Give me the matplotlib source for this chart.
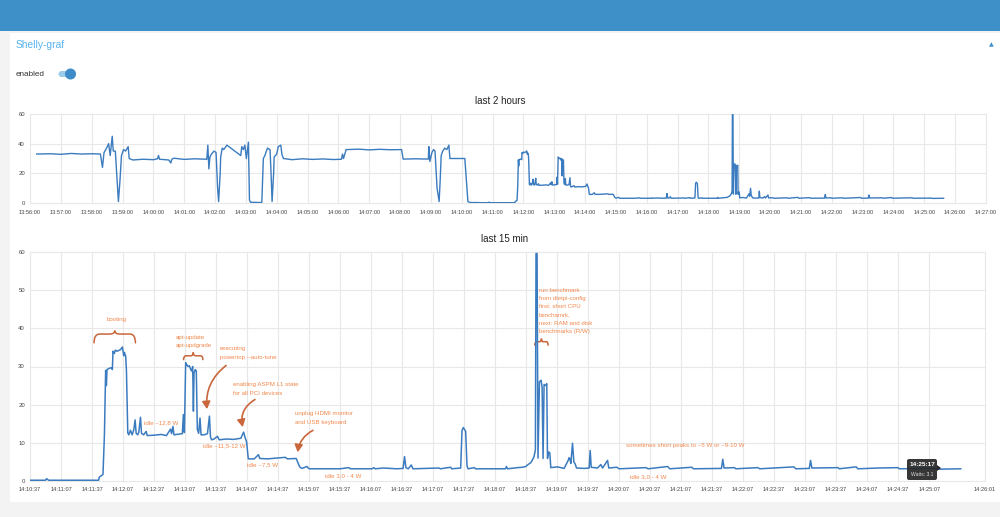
import matplotlib
matplotlib.use("Agg")
import matplotlib.pyplot as plt
from matplotlib.patches import FancyBboxPatch, Circle, Rectangle, FancyArrowPatch, Polygon, PathPatch
from matplotlib.path import Path
from matplotlib.ticker import FixedLocator, FixedFormatter

# ------------------------------------------------------------------ data
page_title = "Shelly-graf"
toggle_label = "enabled"
top_title = "last 2 hours"
bottom_title = "last 15 min"

# older part of the long-range chart (clock time, watts)
early_times = ["13:56:13", "13:56:40", "13:57:00", "13:57:20", "13:57:40", "13:58:00", "13:58:17",
               "13:58:21", "13:58:24", "13:58:29", "13:58:33", "13:58:36", "13:58:40", "13:58:42",
               "13:58:46", "13:58:52", "13:58:55", "13:58:58", "13:59:02", "13:59:06", "13:59:11",
               "13:59:13", "13:59:20", "13:59:40", "14:00:00", "14:00:08", "14:00:10", "14:00:12",
               "14:00:30", "14:00:34", "14:00:36", "14:00:40", "14:01:00", "14:01:20", "14:01:44",
               "14:01:46", "14:01:48", "14:01:50", "14:01:53", "14:01:58", "14:02:02", "14:02:05",
               "14:02:07", "14:02:10", "14:02:11", "14:02:14", "14:02:17", "14:02:23", "14:02:50",
               "14:02:52", "14:02:55", "14:02:58", "14:03:01", "14:03:05", "14:03:07", "14:03:09",
               "14:03:31", "14:03:34", "14:03:37", "14:03:42", "14:03:47", "14:03:49", "14:03:51",
               "14:03:54", "14:03:55", "14:04:00", "14:04:03", "14:04:08", "14:04:10", "14:04:13",
               "14:04:30", "14:04:50", "14:05:10", "14:05:30", "14:05:50", "14:06:06", "14:06:08",
               "14:06:10", "14:06:15", "14:06:40", "14:07:00", "14:07:20", "14:07:40", "14:08:03",
               "14:08:06", "14:08:30", "14:08:55", "14:08:56", "14:08:58", "14:09:02", "14:09:05",
               "14:09:08", "14:09:12", "14:09:16", "14:09:18", "14:09:20", "14:09:23", "14:09:27",
               "14:09:31", "14:09:35", "14:09:37", "14:10:06", "14:10:10", "14:10:12", "14:10:16",
               "14:10:30"]
early_watts = [33.0, 33.2, 32.8, 33.4, 33.0, 33.2, 33.0,
               24, 34, 37, 40, 32, 45, 35,
               35, 1, 15, 32, 36, 35, 38,
               30, 29, 29.5, 29.2, 29.8, 32, 29.5,
               29, 27, 29.5, 30.2, 29.4, 29.8, 29.5,
               39, 23, 31, 33, 35, 34, 10,
               1, 20, 31, 37, 36, 39, 32,
               38, 36, 39, 30, 41, 2, 0.5,
               0.3, 30, 32, 37, 36, 20, 1,
               20, 31, 33, 38, 39, 33, 30,
               29.2, 29.8, 29.4, 29.7, 29.3, 29.5, 33,
               30, 36, 36.3, 35.8, 36.2, 35.9, 36,
               29.6, 29.8, 29.6, 38, 28, 34, 36,
               35, 10, 1, 15, 32, 35, 37,
               36, 39, 30, 30, 10, 1, 0.3,
               0.3]

# recent part (seconds after 14:10:37, watts) - shown in both charts
recent_start = "14:10:37"
recent_offsets = [0, 15, 16, 18, 40, 66.4, 67, 69, 70.6, 72, 73.2, 73.9, 74.5, 76.5, 78.7, 79.7,
                  80.3, 81.6, 82.6, 84.2, 87.5, 89.4, 90.7, 91.4, 92.6, 93.3, 94.6, 95.6, 97.2,
                  98.8, 100.4, 101.7, 102.7, 104.3, 105.3, 106.9, 107.9, 110, 112.4, 113.4, 120,
                  127, 132, 136, 137, 138.3, 139.3, 147.4, 148.4, 149.4, 150.6, 151.6, 152.9,
                  154.2, 155.5, 156.4, 157.4, 158.1, 158.7, 159.9, 160.9, 161.9, 163.2, 164.5,
                  165.5, 168.5, 171.7, 173.6, 174.6, 175.6, 178, 181.4, 183, 190, 197, 204,
                  206.7, 208, 209.6, 211.2, 217, 221, 222.3, 230, 247, 249, 257.5, 261, 263,
                  268, 270, 285, 300, 308.5, 310, 331, 332.7, 334, 342, 355, 361, 362.4, 363.7,
                  366, 368.9, 370.5, 395.7, 397, 407, 408, 416.7, 418, 419.3, 421.5, 422.8,
                  423.8, 430, 431, 460, 461, 462, 471.6, 476.4, 479.7, 481.3, 484.5, 486.1,
                  487.7, 489, 489.6, 490.6, 491.5, 492.9, 494.5, 495.5, 496.4, 497.4, 499, 500,
                  500.7, 501.6, 502.9, 503.9, 510.4, 516.8, 520.7, 521.6, 522.3, 523.3, 524.9,
                  526.2, 527.4, 528.8, 536.2, 541, 542, 543, 549.1, 552.3, 554, 558.8, 560,
                  563.6, 567.8, 570, 596, 598, 617, 619, 640.2, 642, 669, 670.3, 671.5, 681.5,
                  683, 704.2, 706, 739, 741, 754, 755.2, 756.5, 781.7, 783, 799.4, 801, 820.4,
                  839.8, 841, 875.3, 880, 900.5]
recent_watts = [0.2, 0.2, 0.6, 0.2, 0.2, 0.2, 1.0, 1.4, 1.7, 12, 29, 25, 29.2, 29.5, 29.7, 29.2,
                34, 33.4, 34.3, 34, 34.4, 35.1, 32.8, 33.7, 32.6, 29, 12.6, 12.1, 13.3,
                12.1, 13.4, 16, 12.5, 12.1, 12.8, 16.7, 12.5, 12.1, 13, 11.9, 12.0,
                12.2, 11.9, 13.6, 12.4, 14.3, 12.1, 12.4, 17.4, 12.7, 31, 30.5, 30,
                30.2, 29.2, 28.8, 30, 18.3, 28.3, 29.2, 28.8, 13.5, 12.5, 16.5,
                12.1, 12.1, 12.4, 17, 11.6, 10.8, 11.0, 11.7, 10.8, 11.0, 10.9, 11.2,
                12.8, 11.5, 10.2, 5.8, 5.8, 6.9, 5.9, 5.8, 6.2, 5.8, 5.9, 3.7, 3.3,
                3.8, 3.2, 3.2, 3.2, 3.5, 3.2, 3.2, 3.5, 3.2, 3.4, 3.2, 3.3, 6.4, 3.5,
                3.2, 4.2, 3.2, 3.4, 3.2, 3.6, 3.2, 3.4, 13.3, 14.0, 13.0, 4.0,
                3.2, 3.5, 3.2, 3.2, 3.8, 3.2, 3.5, 3.6, 3.8, 4.2, 4.8, 5.5,
                6.4, 8.2, 59.6, 59.6, 6.0, 26.0, 26.4, 24.5, 5.9, 25.3, 25.0, 25.5,
                5.9, 7.6, 7.4, 3.5, 3.7, 3.3, 5.4, 6.1, 5.8, 4.6, 9.9,
                5.0, 4.5, 3.4, 3.3, 3.4, 8.0, 3.6, 3.4, 4.3, 3.4, 5.4, 3.4,
                3.5, 3.6, 3.2, 3.5, 3.2, 3.8, 3.2, 3.6, 3.2, 3.3, 5.7, 3.4, 3.5,
                3.2, 3.5, 3.2, 3.7, 3.2, 3.3, 5.4, 3.4, 3.5, 3.2, 3.7, 3.2, 3.4,
                3.5, 3.2, 3.3, 3.1, 3.2]

top_xtick_labels = ["13:56:00", "13:57:00", "13:58:00", "13:59:00", "14:00:00", "14:01:00",
                    "14:02:00", "14:03:00", "14:04:00", "14:05:00", "14:06:00", "14:07:00",
                    "14:08:00", "14:09:00", "14:10:00", "14:11:00", "14:12:00", "14:13:00",
                    "14:14:00", "14:15:00", "14:16:00", "14:17:00", "14:18:00", "14:19:00",
                    "14:20:00", "14:21:00", "14:22:00", "14:23:00", "14:24:00", "14:25:00",
                    "14:26:00", "14:27:00"]
top_yticks = [0, 20, 40, 60]
bottom_xtick_labels = ["14:10:37", "14:11:07", "14:11:37", "14:12:07", "14:12:37", "14:13:07",
                       "14:13:37", "14:14:07", "14:14:37", "14:15:07", "14:15:37", "14:16:07",
                       "14:16:37", "14:17:07", "14:17:37", "14:18:07", "14:18:37", "14:19:07",
                       "14:19:37", "14:20:07", "14:20:37", "14:21:07", "14:21:37", "14:22:07",
                       "14:22:37", "14:23:07", "14:23:37", "14:24:07", "14:24:37", "14:25:07",
                       "14:26:01"]
bottom_yticks = [0, 10, 20, 30, 40, 50, 60]

# notes on the 15-minute chart: lines, seconds after 14:10:37, watts of first line, alignment
note_lines = [["booting"], ["apt-update", "apt-updgrade"], ["executing", "powertop --auto-tune"],
              ["enabling ASPM L1 state", "for all PCI devices"],
              ["unplug HDMI monitor", "and USB keyboard"],
              ["idle ~12,8 W"], ["idle ~11,5-12 W"], ["idle ~7,5 W"], ["idle 3,0 - 4 W"],
              ["run benchmark", "from dietpi-config", "first: short CPU", "benchamrk,",
               "next: RAM and disk", "benchmarks (R/W)"],
              ["sometimes short peaks to ~5 W or ~9-10 W"], ["idle 3,0 - 4 W"]]
note_offsets = [84, 141.5, 184, 196.7, 256.8, 110.5, 167.6, 210.3, 285.9, 492.2, 576.6, 580.4]
note_watts = [42.2, 37.7, 34.6, 25.2, 17.6, 15.2, 9.2, 4.2, 1.3, 50.0, 9.2, 1.0]
note_align = ["center", "left", "left", "left", "left", "left", "left", "left", "left", "left",
              "left", "left"]
# hand-drawn arrows (from offset, from watts, to offset, to watts, bend)
arrow_from_offsets = [191.9, 220.0, 276.2]
arrow_from_watts = [30.7, 21.7, 13.6]
arrow_to_offsets = [171.5, 206.4, 258.7]
arrow_to_watts = [18.1, 13.4, 6.8]
arrow_bend = [0.3, 0.4, 0.3]
# braces (start offset, end offset, end watts, flat watts, peak watts)
brace_starts = [62, 148.6, 488.4]
brace_ends = [102, 167.3, 501.3]
brace_low = [36.2, 31.8, 35.6]
brace_flat = [38.5, 32.8, 36.5]
brace_peak = [39.4, 33.7, 37.3]

tooltip_time = "14:25:17"
tooltip_value = "Watts: 3.1"

# ------------------------------------------------------------------ helpers
def secs(hms):
    h, m, s = hms.split(":")
    return int(h) * 3600 + int(m) * 60 + float(s)

LINE = "#3b7bbf"
GRID = "#e8e8e8"
NOTE = "#f0884c"
PEN = "#c9663b"
TICKC = "#444444"
FONT = ["Liberation Sans", "DejaVu Sans"]

W, H = 1000, 517
fig = plt.figure(figsize=(W / 100, H / 100), dpi=100)
fig.patch.set_facecolor("#f3f3f3")

# page chrome in pixel coordinates
bg = fig.add_axes([0, 0, 1, 1])
bg.set_xlim(0, W)
bg.set_ylim(H, 0)
bg.axis("off")
bg.add_patch(Rectangle((10, 33), 990, 469, facecolor="white", edgecolor="none"))
bg.add_patch(Rectangle((0, 0), W, 31, facecolor="#3e90c8", edgecolor="none"))
bg.text(16, 45, page_title, fontsize=7.4, color="#55b3ee", va="center", ha="left", family=FONT)
bg.text(991, 45, "\u25B2", fontsize=4.5, color="#3e90c8", va="center", ha="center", family=["DejaVu Sans"])
bg.text(16, 74, toggle_label, fontsize=5.9, color="#333333", va="center", ha="left", family=FONT)
bg.add_patch(FancyBboxPatch((58.5, 71), 17, 6, boxstyle="round,pad=0,rounding_size=3",
                            facecolor="#9ccbea", edgecolor="none"))
bg.add_patch(Circle((70.5, 74), 5.5, facecolor="#3d8cc8", edgecolor="none"))
bg.text(500, 101, top_title, fontsize=7, color="#222222", va="center", ha="center", family=FONT)
bg.text(505, 239, bottom_title, fontsize=7, color="#222222", va="center", ha="center", family=FONT)


def style_axes(ax, xticks, xlabels, yticks, xpad, ypad):
    ax.set_facecolor("none")
    for s in ax.spines.values():
        s.set_visible(False)
    ax.xaxis.set_major_locator(FixedLocator(xticks))
    ax.xaxis.set_major_formatter(FixedFormatter(xlabels))
    ax.set_yticks(yticks)
    ax.grid(True, color=GRID, linewidth=0.8)
    ax.set_axisbelow(True)
    ax.tick_params(axis="x", length=0, pad=xpad, labelsize=4.1, labelcolor=TICKC)
    ax.tick_params(axis="y", length=0, pad=ypad, labelsize=4.3, labelcolor=TICKC)
    for lab in ax.get_xticklabels() + ax.get_yticklabels():
        lab.set_family(FONT)
    for gl in ax.get_xgridlines() + ax.get_ygridlines():
        gl.set_clip_on(False)


t0_recent = secs(recent_start)
recent_t = [t0_recent + o for o in recent_offsets]
early_t = [secs(s) for s in early_times]

# ---- top chart
ax1 = fig.add_axes([30 / W, 1 - 203 / H, 956 / W, 89 / H])
ax1.plot(early_t + recent_t, early_watts + recent_watts, color=LINE, lw=1.0, solid_joinstyle="round")
top_ticks = [secs(s) for s in top_xtick_labels]
ax1.set_xlim(top_ticks[0], top_ticks[-1])
ax1.set_ylim(0, 60)
style_axes(ax1, top_ticks, top_xtick_labels, top_yticks, 5.0, 3.6)

# ---- bottom chart
ax2 = fig.add_axes([30 / W, 1 - 481 / H, 955 / W, 229 / H])
ax2.plot(recent_t, recent_watts, color=LINE, lw=1.1, solid_joinstyle="round")
bot_ticks = [secs(s) for s in bottom_xtick_labels]
ax2.set_xlim(bot_ticks[0], bot_ticks[-1])
ax2.set_ylim(0, 60)
style_axes(ax2, bot_ticks, bottom_xtick_labels, bottom_yticks, 4.2, 3.6)

LINE_STEP_PT = 6.0
for lines, o, w, ha in zip(note_lines, note_offsets, note_watts, note_align):
    for i, ln in enumerate(lines):
        ax2.annotate(ln, (t0_recent + o, w), xytext=(0, -i * LINE_STEP_PT),
                     textcoords="offset points", fontsize=4.45, color=NOTE, ha=ha,
                     va="center", family=FONT)

for fo, fw, to, tw, r in zip(arrow_from_offsets, arrow_from_watts, arrow_to_offsets,
                             arrow_to_watts, arrow_bend):
    ax2.add_patch(FancyArrowPatch((t0_recent + fo, fw), (t0_recent + to, tw),
                                  connectionstyle=f"arc3,rad={r}",
                                  arrowstyle="-|>,head_length=0.55,head_width=0.3",
                                  mutation_scale=8, color=PEN, lw=1.2))

for a, b, lo, fl, pk in zip(brace_starts, brace_ends, brace_low, brace_flat, brace_peak):
    a += t0_recent
    b += t0_recent
    m = (a + b) / 2
    q = (b - a) * 0.13
    verts = [(a, lo), (a, fl), (a + q, fl), (m - q, fl), (m, fl), (m, pk),
             (m, fl), (m + q, fl), (b - q, fl), (b, fl), (b, lo)]
    codes = [Path.MOVETO, Path.CURVE3, Path.CURVE3, Path.LINETO, Path.CURVE3, Path.CURVE3,
             Path.CURVE3, Path.CURVE3, Path.LINETO, Path.CURVE3, Path.CURVE3]
    ax2.add_patch(PathPatch(Path(verts, codes), facecolor="none", edgecolor=PEN, lw=1.1,
                            capstyle="round"))

# tooltip (pixel coordinates)
bg.set_zorder(0)
ax1.set_zorder(1)
ax2.set_zorder(1)
tip = fig.add_axes([0, 0, 1, 1], zorder=5)
tip.set_xlim(0, W)
tip.set_ylim(H, 0)
tip.axis("off")
tip.add_patch(FancyBboxPatch((907, 459), 30, 21, boxstyle="round,pad=0,rounding_size=2",
                             facecolor="#262626", edgecolor="none", alpha=0.92))
tip.add_patch(Polygon([(937, 465), (941, 468), (937, 471)], closed=True, facecolor="#262626",
                      edgecolor="none"))
tip.text(922, 465, tooltip_time, fontsize=4.6, color="white", fontweight="bold",
         ha="center", va="center", family=FONT)
tip.text(922, 474.5, tooltip_value, fontsize=3.6, color="#dddddd", ha="center", va="center",
         family=FONT)

fig.savefig("out.png", dpi=100, facecolor=fig.get_facecolor())
